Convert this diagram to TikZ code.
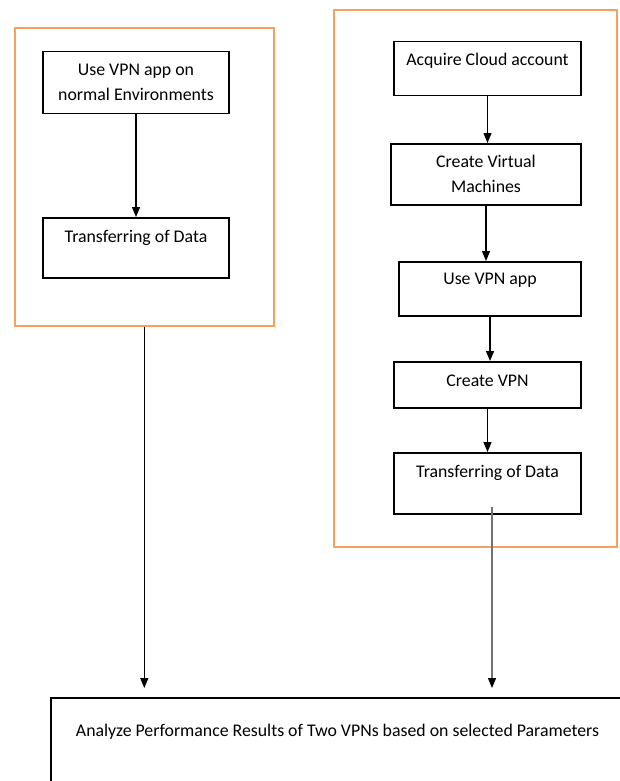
\documentclass[tikz,border=0pt]{standalone}
\usepackage{fontspec}
\setmainfont{Carlito}
\usetikzlibrary{arrows.meta}
\definecolor{frameorange}{RGB}{249,160,95}

\begin{document}
\begin{tikzpicture}[x=1pt,y=-1pt]
  \tikzset{stepbox/.style = {shape=rectangle,draw,line width=1.5pt,anchor=north,align=center,inner sep=0pt,font=\fontsize{17.8}{25}\selectfont}}
  \tikzset{frame/.style = {shape=rectangle,draw=frameorange,line width=1.6pt,anchor=north west,inner sep=0pt}}
  \tikzset{edge/.style = {-{Triangle[width=8pt,length=10pt,color=black]},line width=1.2pt}}

  \useasboundingbox (0,0) rectangle (620,781);

  % the two environments
  \node[frame,minimum width=259,minimum height=298] (envframe) at (14,27) {};
  \node[frame,minimum width=283,minimum height=537] (cloudframe) at (333,9) {};

  \node[stepbox,minimum width=186,minimum height=62] (env) at (136,51) {Use VPN app on\\normal Environments};
  \node[stepbox,minimum width=186,text height=25pt,text depth=35pt] (tdL) at (136,217) {Transferring of Data};

  \node[stepbox,minimum width=187,text height=24pt,text depth=30pt] (acq) at (487.5,41) {Acquire Cloud account};
  \node[stepbox,minimum width=190,minimum height=61] (vm) at (486,143) {Create Virtual\\Machines};
  \node[stepbox,minimum width=182,text height=23pt,text depth=31pt] (app) at (490,261) {Use VPN app};
  \node[stepbox,minimum width=187,text height=25pt,text depth=21pt] (cvpn) at (487.5,361) {Create VPN};
  \node[stepbox,minimum width=187,text height=25pt,text depth=36pt] (tdR) at (487.5,452) {Transferring of Data};

  \node[stepbox,minimum width=573,text height=39pt,text depth=60pt] (res) at (337.5,697) {Analyze Performance Results of Two VPNs based on selected Parameters};

  \foreach \from/\to in {env/tdL, acq/vm, vm/app, app/cvpn, cvpn/tdR}
    \draw[edge] (\from.south) -- (\from.south |- \to.north);

  \coordinate (tdRin) at (492,507);
  \draw[edge,shorten >=9pt] (envframe.south) -- (envframe.south |- res.north);
  \draw[edge,draw=black!55,shorten >=9pt] (tdRin) -- (tdRin |- res.north);

\end{tikzpicture}
\end{document}
